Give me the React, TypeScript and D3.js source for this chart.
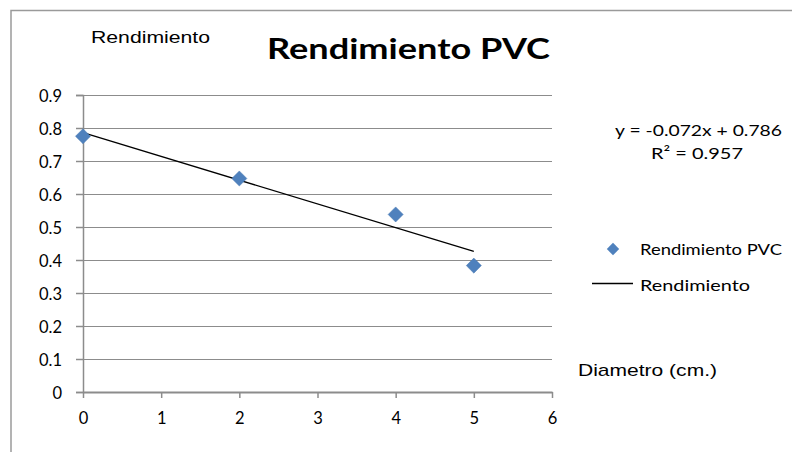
import React, { useRef, useEffect } from 'react';
import * as d3 from 'd3';

// diametro (cm.) vs rendimiento
const diametros = [0, 2, 4, 5];
const rendimientos = [0.775, 0.647, 0.538, 0.383];
const yTicks = [0, 0.1, 0.2, 0.3, 0.4, 0.5, 0.6, 0.7, 0.8, 0.9];
const xTicks = [0, 1, 2, 3, 4, 5, 6];
// trend line as printed on the chart
const pendiente = -0.072;
const intercepto = 0.786;
const trendX = [0, 5];

function App() {
  const svgRef = useRef(null);

  useEffect(() => {
    const width = 792;
    const height = 452;
    const margin = { top: 95, right: 240, bottom: 60, left: 83 };

    const svg = d3.select(svgRef.current)
      .attr("width", width)
      .attr("height", height);
    svg.selectAll('*').remove();

    const xScale = d3.scaleLinear().domain([0, 6]).range([margin.left, 552]);
    const yScale = d3.scaleLinear().domain([0, 0.9]).range([392, margin.top]);

    const lab = "'Lato', 'Open Sans', sans-serif";
    const arial = "'Liberation Sans', Arial, sans-serif";

    // stretched text helper (the original is horizontally stretched)
    const label = (x, y, txt, size, len, font = lab, anchor = "start") =>
      svg.append("text")
        .attr("x", x).attr("y", y)
        .attr("text-anchor", anchor)
        .attr("font-family", font)
        .attr("font-size", size)
        .attr("textLength", len)
        .attr("lengthAdjust", "spacingAndGlyphs")
        .attr("fill", "#000")
        .text(txt);

    // outer frame (runs off the right and bottom)
    svg.append("path")
      .attr("d", `M11,${height + 2} L11,10.5 L${width + 2},10.5`)
      .attr("fill", "none")
      .attr("stroke", "#9a9a9a")
      .attr("stroke-width", 1.5);

    // gridlines
    svg.append("g")
      .selectAll("line")
      .data(yTicks.slice(1))
      .join("line")
      .attr("x1", xScale(0))
      .attr("x2", xScale(6))
      .attr("y1", d => yScale(d) + 0.5)
      .attr("y2", d => yScale(d) + 0.5)
      .attr("stroke", "#8c8c8c")
      .attr("stroke-width", 1);

    // y axis
    const yAxis = svg.append("g")
      .attr("transform", `translate(${xScale(0)},0)`)
      .call(d3.axisLeft(yScale).tickValues(yTicks).tickSize(7).tickPadding(14)
        .tickFormat(d => d === 0 ? "0" : d3.format(".1f")(d)));
    yAxis.select(".domain").attr("stroke", "#8c8c8c").attr("stroke-width", 1.5);
    yAxis.selectAll(".tick line").attr("stroke", "#8c8c8c").attr("stroke-width", 1.5);
    yAxis.selectAll("text")
      .attr("font-family", lab)
      .attr("font-size", 16.5)
      .attr("dy", "0.4em")
      .attr("fill", "#000");

    // x axis
    const xAxis = svg.append("g")
      .attr("transform", `translate(0,${yScale(0)})`)
      .call(d3.axisBottom(xScale).tickValues(xTicks).tickSize(6).tickSizeOuter(0).tickPadding(23)
        .tickFormat(d3.format("d")));
    xAxis.select(".domain").attr("stroke", "#8c8c8c").attr("stroke-width", 2);
    xAxis.selectAll(".tick line").attr("stroke", "#8c8c8c").attr("stroke-width", 1.5);
    xAxis.selectAll("text")
      .attr("font-family", lab)
      .attr("font-size", 16.5)
      .attr("dy", "0.2em")
      .attr("fill", "#000");

    // trend line
    const line = d3.line()
      .x(d => xScale(d))
      .y(d => yScale(pendiente * d + intercepto));
    svg.append("path")
      .datum(trendX)
      .attr("d", line)
      .attr("fill", "none")
      .attr("stroke", "#000")
      .attr("stroke-width", 1.3);

    // points
    const diamond = d3.symbol().type(d3.symbolDiamond2).size(145);
    svg.append("g")
      .selectAll("path")
      .data(diametros.map((d, i) => [d, rendimientos[i]]))
      .join("path")
      .attr("d", diamond)
      .attr("transform", d => `translate(${xScale(d[0])},${yScale(d[1])})`)
      .attr("fill", "#4F81BD")
      .attr("stroke", "#4a7ab3")
      .attr("stroke-width", 0.5);

    // titles
    label(91, 43, "Rendimiento", 16, 119, arial);
    label(267, 59, "Rendimiento PVC", 28, 283).attr("font-weight", "bold");
    label(578, 376, "Diametro (cm.)", 17, 139, arial);

    // equation
    label(615, 136, "y = -0.072x + 0.786", 16, 167);
    label(651, 159, "R² = 0.957", 16, 92);

    // legend
    svg.append("path")
      .attr("d", d3.symbol().type(d3.symbolDiamond2).size(98))
      .attr("transform", "translate(613,249)")
      .attr("fill", "#4F81BD");
    label(640, 255, "Rendimiento PVC", 15, 142);
    svg.append("line")
      .attr("x1", 592).attr("x2", 633)
      .attr("y1", 283.5).attr("y2", 283.5)
      .attr("stroke", "#000")
      .attr("stroke-width", 1.3);
    label(640, 291, "Rendimiento", 15, 110);
  }, []);

  return (
    <div style={{ position: 'absolute', left: 0, top: 0, background: '#fff' }}>
      <svg ref={svgRef} style={{ display: 'block' }}></svg>
    </div>
  );
}

export default App;
